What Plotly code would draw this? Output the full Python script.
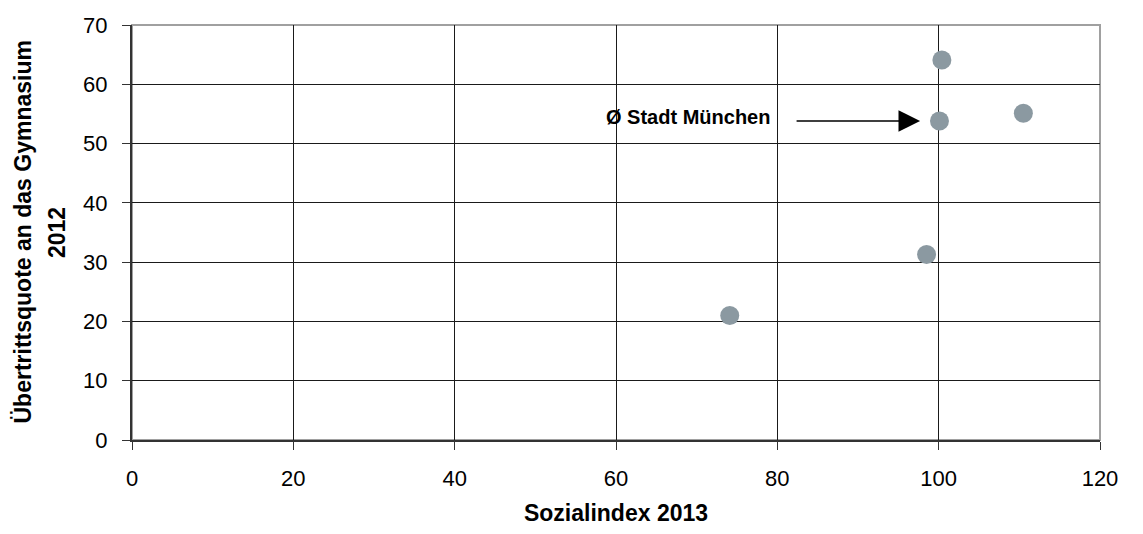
import plotly.graph_objects as go

# Sozialindex 2013 vs. Übertrittsquote an das Gymnasium 2012
sozialindex = [74.1, 98.5, 100.1, 100.4, 110.5]
uebertrittsquote = [21.0, 31.3, 53.8, 64.1, 55.1]

# Stadt München average (arrow target)
avg_x = 100.1
avg_y = 53.8
avg_label = "Ø Stadt München"

x_ticks = [0, 20, 40, 60, 80, 100, 120]
y_ticks = [0, 10, 20, 30, 40, 50, 60, 70]

y_title_lines = ["Übertrittsquote an das Gymnasium", "2012"]
x_title = "Sozialindex 2013"

FONT = "Liberation Sans, Arial, sans-serif"

fig = go.Figure()
fig.add_trace(go.Scatter(
    x=sozialindex,
    y=uebertrittsquote,
    mode="markers",
    marker=dict(size=19, color="#8B99A1", line=dict(width=0)),
    showlegend=False,
    hoverinfo="x+y",
))

# Outer frame (top/right edges grey)
fig.add_shape(type="rect", xref="paper", yref="paper", x0=0, y0=0, x1=1, y1=1,
              line=dict(color="#A0A0A0", width=2), layer="below")

# Arrow pointing at the city average
fig.add_annotation(
    x=avg_x - 2.4, y=avg_y, ax=avg_x - 17.9, ay=avg_y,
    xref="x", yref="y", axref="x", ayref="y",
    text="", showarrow=True,
    arrowhead=2, arrowsize=2.7, arrowwidth=1.6, arrowcolor="#000000",
)
fig.add_annotation(
    x=avg_x - 20.7, y=avg_y + 0.75, xref="x", yref="y",
    text="<b>" + avg_label + "</b>", showarrow=False,
    xanchor="right", yanchor="middle",
    font=dict(family=FONT, size=20, color="#000000"),
)

# Two-line rotated y-axis title
for line_text, x_px in zip(y_title_lines, [22, 56.5]):
    fig.add_annotation(
        x=(x_px - 132) / 968, y=0.5, xref="paper", yref="paper",
        text="<b>" + line_text + "</b>", showarrow=False, textangle=-90,
        xanchor="center", yanchor="middle",
        font=dict(family=FONT, size=23, color="#000000"),
    )

fig.update_layout(
    width=1143, height=534,
    margin=dict(l=132, r=43, t=25, b=91),
    paper_bgcolor="white", plot_bgcolor="white",
    font=dict(family=FONT, size=22, color="#000000"),
    xaxis=dict(
        range=[0, 120], tickvals=x_ticks, ticktext=[str(v) for v in x_ticks],
        showgrid=True, gridcolor="#1A1A1A", gridwidth=1,
        showline=True, linecolor="#333333", linewidth=2,
        ticks="outside", ticklen=8, tickcolor="#333333", tickwidth=1,
        ticklabelstandoff=10, zeroline=False,
        tickfont=dict(family=FONT, size=22, color="#000000"),
        title=dict(text="<b>" + x_title + "</b>", standoff=14,
                   font=dict(family=FONT, size=23, color="#000000")),
    ),
    yaxis=dict(
        range=[0, 70], tickvals=y_ticks, ticktext=[str(v) for v in y_ticks],
        showgrid=True, gridcolor="#1A1A1A", gridwidth=1,
        showline=True, linecolor="#333333", linewidth=2,
        ticks="outside", ticklen=8, tickcolor="#333333", tickwidth=1,
        ticklabelstandoff=10, zeroline=False,
        tickfont=dict(family=FONT, size=22, color="#000000"),
    ),
)

fig.write_html("out.html")
